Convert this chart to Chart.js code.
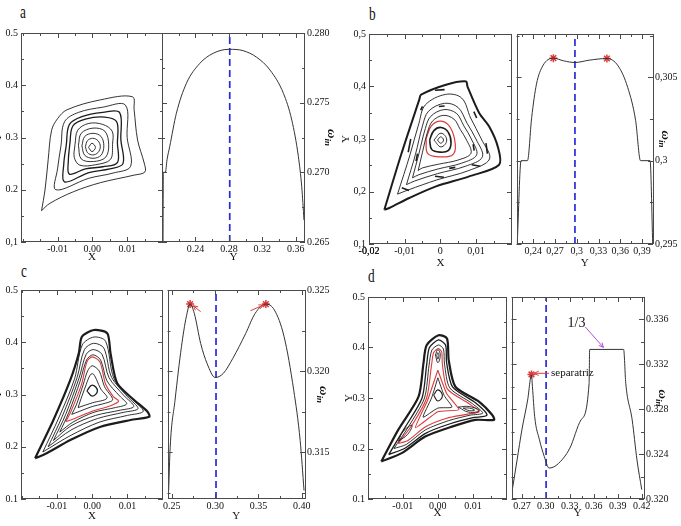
<!DOCTYPE html>
<html>
<head>
<meta charset="utf-8">
<script src="https://cdn.jsdelivr.net/npm/chart.js@4.4.0/dist/chart.umd.min.js"></script>
<style>
  body { margin: 0; width: 681px; height: 526px; background: #fff; overflow: hidden; position: relative; font-family: "Liberation Serif", serif; }
  canvas { position: absolute; }
  .tag { position: absolute; font-size: 19px; line-height: 19px; color: #111; transform: scaleX(0.7); transform-origin: left top; }
</style>
</head>
<body>
<div class="tag" style="left:20px;top:2px">a</div>
<div class="tag" style="left:369px;top:4px">b</div>
<div class="tag" style="left:21px;top:261px">c</div>
<div class="tag" style="left:368px;top:266px">d</div>
<script>
// ---------- panel a : Poincare section (X, Y) ----------
const aOuter = [-0.0146,0.160, -0.0136,0.1995, -0.0127,0.257, -0.0117,0.314, -0.0100,0.336, -0.0073,0.353, 0.0023,0.372, 0.0115,0.378, 0.0120,0.353, 0.0130,0.295, 0.0149,0.251, 0.0151,0.234, 0.0120,0.228, 0.0023,0.2135, -0.0054,0.1963, -0.0122,0.174];
const aC2 = [-0.0090,0.285, -0.0080,0.330, -0.0040,0.348, 0.0030,0.358, 0.0095,0.362, 0.0100,0.300, 0.0110,0.245, 0.0060,0.232, -0.0010,0.222, -0.0105,0.200, -0.0100,0.240];
const aC3 = [-0.0075,0.285, -0.0066,0.325, -0.0030,0.340, 0.0030,0.348, 0.0078,0.348, 0.0082,0.295, 0.0088,0.250, 0.0050,0.240, -0.0010,0.233, -0.0080,0.215, -0.0082,0.250];
const aC4 = [-0.0065,0.286, -0.0056,0.322, -0.0020,0.335, 0.0035,0.339, 0.0070,0.330, 0.0072,0.289, 0.0072,0.252, 0.0030,0.244, -0.0020,0.240, -0.0066,0.230, -0.0069,0.256];
const aC5 = [-0.0050,0.286, -0.0042,0.314, -0.0010,0.327, 0.0030,0.325, 0.0057,0.312, 0.0058,0.287, 0.0052,0.258, 0.0010,0.248, -0.0036,0.247, -0.0052,0.262];
const aC6 = [-0.0040,0.285, -0.0032,0.308, 0.0002,0.318, 0.0036,0.312, 0.0047,0.286, 0.0038,0.262, 0.0003,0.254, -0.0032,0.259];
const aC7 = [-0.0030,0.284, -0.0022,0.302, 0.0002,0.308, 0.0025,0.302, 0.0033,0.284, 0.0025,0.266, 0.0002,0.2602, -0.0022,0.266];
const aC8 = [-0.0020,0.2825, -0.0014,0.294, 0.0001,0.2985, 0.0016,0.294, 0.0023,0.2825, 0.0016,0.271, 0.0001,0.2666, -0.0014,0.271];
const aC9 = [-0.0011,0.281, -0.0001,0.289, 0.0009,0.281, -0.0001,0.273];
// panel a : rotation number profile
const aProfY = [0.2012, 0.2016, 0.2040, 0.2060, 0.2092, 0.2172, 0.2292, 0.2452, 0.2611, 0.2800, 0.2971, 0.3132, 0.3292, 0.3452, 0.3552, 0.3631, 0.3671, 0.3698];
const aProfW = [0.2648, 0.2700, 0.2700, 0.2709, 0.27184, 0.27424, 0.27639, 0.27782, 0.27854, 0.27883, 0.27873, 0.27826, 0.27734, 0.27567, 0.27375, 0.27112, 0.26896, 0.26657];
const aDashY = 0.281;

// ---------- panel b ----------
const bOuter = [-0.0157,0.1653, -0.0110,0.270, -0.0059,0.3749, -0.0054,0.3844, 0.0016,0.4034, 0.0072,0.4097, 0.0076,0.4002, 0.0109,0.3495, 0.0137,0.324, 0.0161,0.2859, 0.0165,0.251, 0.0081,0.2288, -0.0012,0.2097, -0.0087,0.1876, -0.0143,0.1686];
const bC2 = [-0.0120,0.195, -0.0085,0.270, -0.0060,0.330, -0.0042,0.365, 0.0015,0.385, 0.0060,0.378, 0.0085,0.340, 0.0115,0.300, 0.0138,0.262, 0.0080,0.240, -0.0010,0.222, -0.0090,0.203];
const bC3 = [-0.0095,0.213, -0.0070,0.270, -0.0050,0.325, -0.0033,0.353, 0.0012,0.368, 0.0050,0.360, 0.0075,0.330, 0.0100,0.300, 0.0118,0.266, 0.0070,0.248, -0.0008,0.234, -0.0072,0.220];
const bC4 = [-0.0078,0.226, -0.0060,0.272, -0.0042,0.320, -0.0027,0.343, 0.0010,0.356, 0.0045,0.349, 0.0066,0.325, 0.0087,0.300, 0.0102,0.270, 0.0060,0.254, -0.0006,0.243, -0.0060,0.232];
const bC5 = [-0.0062,0.240, -0.0050,0.275, -0.0036,0.313, -0.0022,0.334, 0.0008,0.345, 0.0038,0.338, 0.0056,0.318, 0.0072,0.300, 0.0086,0.273, 0.0050,0.260, -0.0005,0.252, -0.0050,0.245];
const bRed = [-0.0040,0.300, -0.0025,0.325, 0.0002,0.334, 0.0028,0.322, 0.0042,0.290, 0.0035,0.270, 0.0000,0.266, -0.0035,0.272];
const bC6 = [-0.0030,0.298, -0.0018,0.316, 0.0002,0.322, 0.0022,0.313, 0.0030,0.293, 0.0022,0.278, 0.0000,0.275, -0.0024,0.280];
const bC7 = [-0.0018,0.298, 0.0002,0.311, 0.0018,0.298, 0.0002,0.285];
const bC8 = [-0.0008,0.298, 0.0001,0.304, 0.0009,0.298, 0.0001,0.292];
const bIslands = [
  [-0.0015,0.393, 0.0012,0.394], [0.0094,0.352, 0.0102,0.340], [0.0128,0.292, 0.0132,0.272],
  [0.0088,0.251, 0.0112,0.248], [-0.0015,0.229, 0.0010,0.227], [-0.0108,0.207, -0.0088,0.202],
  [-0.0083,0.300, -0.0090,0.275], [-0.0055,0.355, -0.0050,0.362],
  [-0.0004,0.362, 0.0012,0.363], [0.0092,0.290, 0.0095,0.278], [0.0025,0.244, 0.0042,0.246], [-0.0068,0.258, -0.0064,0.272]
];
const bProfY = [0.2180, 0.2233, 0.2321, 0.2379, 0.2445, 0.2532, 0.2678, 0.2819, 0.2974, 0.3172, 0.3415, 0.3569, 0.3702, 0.3811, 0.3878, 0.4010, 0.4046];
const bProfW = [0.29501, 0.3000, 0.3000, 0.30259, 0.30459, 0.30569, 0.30615, 0.30599, 0.30589, 0.30603, 0.30613, 0.30569, 0.30439, 0.3024, 0.3000, 0.3000, 0.29501];
const bStarY = [0.2678, 0.3415];
const bStarW = [0.30615, 0.30613];
const bDashY = 0.2975;

// ---------- panel c ----------
const cOuter = [-0.0162,0.1779, -0.0110,0.2512, -0.0062,0.3278, -0.0038,0.3789, -0.0029,0.4106, 0.0005,0.4234, 0.0043,0.4171, 0.0052,0.3789, 0.0071,0.3214, 0.0119,0.2895, 0.0157,0.2671, 0.0162,0.2575, 0.0109,0.2512, 0.0024,0.2384, -0.0062,0.2129, -0.0129,0.1875];
const cC2 = [-0.0140,0.190, -0.0095,0.255, -0.0050,0.330, -0.0028,0.395, 0.0005,0.410, 0.0038,0.402, 0.0062,0.330, 0.0110,0.293, 0.0145,0.268, 0.0100,0.260, 0.0020,0.247, -0.0060,0.222];
const cC3 = [-0.0125,0.200, -0.0085,0.258, -0.0043,0.332, -0.0022,0.386, 0.0004,0.398, 0.0033,0.389, 0.0055,0.333, 0.0100,0.296, 0.0130,0.273, 0.0090,0.266, 0.0015,0.254, -0.0060,0.232];
const cC4 = [-0.0110,0.212, -0.0075,0.262, -0.0037,0.332, -0.0017,0.377, 0.0003,0.386, 0.0028,0.377, 0.0048,0.332, 0.0090,0.298, 0.0118,0.277, 0.0080,0.270, 0.0010,0.260, -0.0060,0.240];
const cC5 = [-0.0092,0.228, -0.0066,0.266, -0.0034,0.326, -0.0016,0.366, 0.0002,0.376, 0.0024,0.366, 0.0042,0.326, 0.0078,0.297, 0.0098,0.282, 0.0066,0.275, 0.0005,0.266, -0.0055,0.247];
const cRed = [-0.0075,0.248, -0.0060,0.268, -0.0030,0.320, -0.0015,0.362, 0.0000,0.372, 0.0022,0.362, 0.0038,0.320, 0.0060,0.296, 0.0075,0.287, 0.0050,0.278, 0.0000,0.268, -0.0050,0.254];
const cC6 = [-0.0058,0.262, -0.0045,0.280, -0.0025,0.320, -0.0013,0.345, 0.0000,0.355, 0.0020,0.345, 0.0035,0.315, 0.0058,0.290, 0.0030,0.282, 0.0000,0.277, -0.0035,0.268];
const cC7 = [-0.0040,0.275, -0.0022,0.310, 0.0000,0.340, 0.0025,0.310, 0.0042,0.293, 0.0000,0.284];
const cC8 = [-0.0015,0.307, 0.0000,0.318, 0.0015,0.307, 0.0000,0.297];
const cProfY = [0.2463, 0.2481, 0.2537, 0.2611, 0.2667, 0.2711, 0.2759, 0.2833, 0.2907, 0.3000, 0.3092, 0.3203, 0.3351, 0.3462, 0.3585, 0.3684, 0.3796, 0.3907, 0.3981, 0.4026];
const cProfW = [0.31262, 0.3153, 0.3182, 0.3215, 0.32335, 0.32413, 0.32356, 0.3217, 0.32046, 0.3196, 0.31984, 0.32077, 0.3223, 0.32356, 0.32413, 0.32376, 0.32211, 0.31881, 0.31572, 0.31262];
const cStarY = [0.2711, 0.3585];
const cStarW = [0.32413, 0.32413];
const cDashY = 0.301;
const cArrows = [[0.2833, 0.32366, 0.2748, 0.32403], [0.3407, 0.32372, 0.3556, 0.32407]];

// ---------- panel d ----------
const dOuter = [-0.0161,0.1742, -0.0113,0.2368, -0.0055,0.3026, -0.0041,0.3685, -0.0032,0.4046, 0.0002,0.4244, 0.0026,0.4179, 0.0031,0.375, 0.0050,0.3223, 0.0117,0.2927, 0.0155,0.2664, 0.0160,0.2566, 0.0107,0.2566, 0.0040,0.2433, -0.0036,0.2236, -0.0103,0.1908];
const dC2 = [-0.0140,0.188, -0.0095,0.240, -0.0045,0.300, -0.0032,0.365, -0.0024,0.400, 0.0002,0.415, 0.0022,0.405, 0.0025,0.370, 0.0042,0.322, 0.0108,0.290, 0.0140,0.266, 0.0100,0.261, 0.0035,0.249, -0.0035,0.230, -0.0095,0.200];
const dC3 = [-0.0125,0.200, -0.0082,0.245, -0.0038,0.300, -0.0025,0.365, -0.0017,0.395, 0.0002,0.405, 0.0016,0.397, 0.0019,0.367, 0.0034,0.320, 0.0098,0.289, 0.0128,0.270, 0.0092,0.266, 0.0030,0.255, -0.0035,0.237, -0.0090,0.208];
const dRedOuter = [-0.0113,0.210, -0.0072,0.248, -0.0032,0.300, -0.0018,0.365, -0.0012,0.390, 0.0001,0.398, 0.0011,0.391, 0.0013,0.366, 0.0027,0.318, 0.0088,0.289, 0.0118,0.273, 0.0085,0.268, 0.0025,0.260, -0.0035,0.243, -0.0085,0.216];
const dRedInner = [0.0000,0.355, 0.0025,0.309, 0.0060,0.277, 0.0000,0.273, -0.0064,0.241, -0.0029,0.296];
const dC4 = [0.0000,0.340, 0.0018,0.305, 0.0040,0.282, 0.0000,0.280, -0.0042,0.262, -0.0018,0.300];
const dCenter = [-0.0012,0.306, 0.0000,0.316, 0.0013,0.305, 0.0000,0.294];
const dIslTop = [-0.0007,0.385, 0.0000,0.396, 0.0007,0.385, 0.0000,0.370];
const dIslTop2 = [-0.0003,0.384, 0.0000,0.390, 0.0003,0.384, 0.0000,0.377];
const dIslRight = [0.0058,0.282, 0.0090,0.283, 0.0118,0.275, 0.0088,0.272];
const dIslRight2 = [0.0072,0.280, 0.0090,0.280, 0.0105,0.276, 0.0090,0.275];
const dIslLeft = [-0.0112,0.215, -0.0100,0.233, -0.0074,0.246, -0.0086,0.228];
const dProfY = [0.258, 0.264, 0.270, 0.2772, 0.282, 0.2832, 0.286, 0.292, 0.298, 0.304, 0.3139, 0.330, 0.344, 0.3541, 0.3548, 0.3973, 0.4000, 0.408, 0.414, 0.420];
const dProfW = [0.32083, 0.32349, 0.32616, 0.32882, 0.33105, 0.33001, 0.32734, 0.32527, 0.32379, 0.32276, 0.32305, 0.32453, 0.32705, 0.33031, 0.33333, 0.33333, 0.33031, 0.32705, 0.32349, 0.32083];
const dStarY = [0.282];
const dStarW = [0.3311];
const dDashY = 0.3003;
const dArrowRed = [0.304, 0.3312, 0.2855, 0.3312];
const dArrowViolet = [0.3492, 0.33534, 0.372, 0.33351];

// ---------- ticks ----------
const secX = { major: [-0.01, 0, 0.01], minor: [-0.02, -0.015, -0.005, 0.005, 0.015, 0.02] };
const secY = { major: [0.1, 0.2, 0.3, 0.4, 0.5], minor: [0.15, 0.25, 0.35, 0.45] };
const aSecXLabels = ['-0.01', '0.00', '0.01'];
const aSecYLabels = ['0,1', '0.2', '0.3', '0.4', '0.5'];
const bSecXMajor = [-0.02, -0.01, 0, 0.01];
const bSecXLabels = ['-0,02', '-0,01', '0', '0,01'];
const bSecYLabels = ['0,1', '0,2', '0,3', '0,4', '0,5'];
const cdSecYLabels = ['0.1', '0.2', '0.3', '0.4', '0.5'];
const aProfXMajor = [0.24, 0.28, 0.32, 0.36], aProfXMinor = [0.20, 0.22, 0.26, 0.30, 0.34];
const aProfWMajor = [0.265, 0.270, 0.275, 0.280], aProfWMinor = [0.2675, 0.2725, 0.2775];
const bProfXMajor = [0.24, 0.27, 0.30, 0.33, 0.36, 0.39], bProfXMinor = [0.225, 0.255, 0.285, 0.315, 0.345, 0.375];
const bProfXLabels = ['0,24', '0,27', '0,3', '0,33', '0,36', '0,39'];
const bProfWMajor = [0.295, 0.300, 0.305], bProfWMinor = [0.2975, 0.3025, 0.3075];
const bProfWLabels = ['0,295', '0,3', '0,305'];
const cProfXMajor = [0.25, 0.30, 0.35, 0.40], cProfXMinor = [0.275, 0.325, 0.375];
const cProfWMajor = [0.315, 0.320, 0.325], cProfWMinor = [0.3125, 0.3175, 0.3225];
const dProfXMajor = [0.27, 0.30, 0.33, 0.36, 0.39, 0.42], dProfXMinor = [0.285, 0.315, 0.345, 0.375, 0.405];
const dProfWMajor = [0.320, 0.324, 0.328, 0.332, 0.336], dProfWMinor = [0.322, 0.326, 0.330, 0.334, 0.338];

// ---------- helpers ----------
const FONT = '"Liberation Serif", "Times New Roman", serif';
Chart.defaults.font.family = FONT;
Chart.defaults.color = '#111';
const INK = '#1c1c1c', RED = '#dc3b3b', BLUE = '#2a2ad8';

function loop(arr) {
  const p = [];
  for (let i = 0; i < arr.length; i += 2) p.push({ x: arr[i], y: arr[i + 1] });
  p.push(p[0]);
  return p;
}
function pairs(xs, ys) { return xs.map((x, i) => ({ x, y: ys[i] })); }
function ln(data, color, width, tension, extra) {
  return Object.assign({ data, showLine: true, borderColor: color, borderWidth: width, pointRadius: 0, tension, fill: false }, extra || {});
}
function stars(xs, ys) {
  return { data: pairs(xs, ys), showLine: false, pointStyle: 'star', pointRadius: 4, borderColor: RED, borderWidth: 1.5, backgroundColor: RED };
}
function dash(v, lo, hi) {
  return ln([{ x: v, y: lo }, { x: v, y: hi }], BLUE, 1.7, 0, { borderDash: [7, 4] });
}
function fmt(major, labels) {
  return v => { const i = major.findIndex(m => Math.abs(m - v) < 1e-9); return i < 0 ? '' : (labels ? labels[i] : String(v)); };
}
function axis(o) {
  const vals = o.major.concat(o.minor).filter(v => v >= o.min - 1e-9 && v <= o.max + 1e-9).sort((p, q) => p - q);
  return {
    type: 'linear', position: o.pos, min: o.min, max: o.max,
    grid: { display: false, drawTicks: false }, border: { display: false },
    afterBuildTicks: s => { s.ticks = vals.map(v => ({ value: v })); },
    afterFit: s => {
      if (o.w !== undefined) s.width = o.w;
      if (o.h !== undefined) s.height = o.h;
      s.paddingLeft = s.paddingRight = s.paddingTop = s.paddingBottom = 0;
    },
    ticks: { autoSkip: false, maxRotation: 0, minRotation: 0, padding: o.pad, font: { size: 10, lineHeight: 1.2 }, color: '#111', callback: fmt(o.major, o.labels) },
    title: o.title ? { display: true, text: o.title, font: { size: 11, lineHeight: 1.2 }, color: '#111', padding: o.tpad || 0 } : { display: false }
  };
}
function deco(spec) {
  return {
    id: 'deco',
    afterDatasetsDraw(chart) {
      const { ctx, chartArea: a, scales: { x, y } } = chart;
      const isMajor = (list, v) => list.some(m => Math.abs(m - v) < 1e-9);
      ctx.save();
      ctx.strokeStyle = '#4a4a4a';
      ctx.lineWidth = 1;
      ctx.beginPath();
      x.ticks.forEach(t => {
        const p = Math.round(x.getPixelForValue(t.value)) + 0.5, n = isMajor(spec.xMajor, t.value) ? 5 : 3;
        ctx.moveTo(p, a.bottom); ctx.lineTo(p, a.bottom - n);
        ctx.moveTo(p, a.top); ctx.lineTo(p, a.top + n);
      });
      y.ticks.forEach(t => {
        const p = Math.round(y.getPixelForValue(t.value)) + 0.5, n = isMajor(spec.yMajor, t.value) ? 5 : 3;
        ctx.moveTo(a.left, p); ctx.lineTo(a.left + n, p);
        ctx.moveTo(a.right, p); ctx.lineTo(a.right - n, p);
      });
      ctx.stroke();
      ctx.strokeRect(Math.round(a.left) + 0.5, Math.round(a.top) + 0.5, Math.round(a.right - a.left) - 1, Math.round(a.bottom - a.top) - 1);
      (spec.arrows || []).forEach(ar => {
        const [x0, y0, x1, y1] = ar.pts;
        const p0 = [x.getPixelForValue(x0), y.getPixelForValue(y0)], p1 = [x.getPixelForValue(x1), y.getPixelForValue(y1)];
        const ang = Math.atan2(p1[1] - p0[1], p1[0] - p0[0]);
        ctx.strokeStyle = ar.color; ctx.lineWidth = 1;
        ctx.beginPath();
        ctx.moveTo(p0[0], p0[1]); ctx.lineTo(p1[0], p1[1]);
        ctx.moveTo(p1[0] - 5 * Math.cos(ang - 0.45), p1[1] - 5 * Math.sin(ang - 0.45));
        ctx.lineTo(p1[0], p1[1]);
        ctx.lineTo(p1[0] - 5 * Math.cos(ang + 0.45), p1[1] - 5 * Math.sin(ang + 0.45));
        ctx.stroke();
      });
      (spec.texts || []).forEach(tx => {
        ctx.fillStyle = '#111'; ctx.font = tx.size + 'px ' + FONT;
        ctx.textAlign = tx.align; ctx.textBaseline = 'middle';
        ctx.fillText(tx.text, x.getPixelForValue(tx.at[0]), y.getPixelForValue(tx.at[1]));
      });
      if (spec.wTitle !== undefined) {
        ctx.translate(a.right + spec.wTitle, (a.top + a.bottom) / 2);
        ctx.rotate(Math.PI / 2);
        ctx.fillStyle = '#111'; ctx.textBaseline = 'middle'; ctx.textAlign = 'left';
        const f1 = 'italic bold 13px ' + FONT, f2 = 'italic bold 9px ' + FONT;
        ctx.font = f1; const w1 = ctx.measureText('ω').width;
        ctx.font = f2; const w2 = ctx.measureText('in').width;
        const x0 = -(w1 + w2) / 2;
        ctx.font = f1; ctx.fillText('ω', x0, 0);
        ctx.font = f2; ctx.fillText('in', x0 + w1, 4);
      }
      ctx.restore();
    }
  };
}
function makeCanvas(left, top, w, h) {
  const c = document.createElement('canvas');
  c.width = w; c.height = h;
  c.style.left = left + 'px'; c.style.top = top + 'px';
  c.style.width = w + 'px'; c.style.height = h + 'px';
  document.body.appendChild(c);
  return c;
}
function chart(canvas, datasets, xs, ys, spec) {
  return new Chart(canvas, {
    type: 'scatter',
    data: { datasets },
    options: {
      responsive: false, animation: false, devicePixelRatio: 1, events: [],
      layout: { padding: { top: 10, left: 0, right: 0, bottom: 0 } },
      plugins: { legend: { display: false }, tooltip: { enabled: false } },
      scales: { x: xs, y: ys }
    },
    plugins: [deco(spec)]
  });
}
function panel(g, sec, prof) {
  const top = g.T - 10, h = g.B - g.T + 10 + g.xh;
  const lc = makeCanvas(g.L - 29, top, g.M - g.L + 30, h);
  chart(lc, sec.datasets,
    axis({ pos: 'bottom', min: sec.xr[0], max: sec.xr[1], major: sec.xMajor, minor: secX.minor, labels: sec.xLabels, h: g.xh, pad: 1.5, title: 'X' }),
    axis({ pos: 'left', min: 0.1, max: 0.5, major: secY.major, minor: secY.minor, labels: sec.yLabels, w: 29, pad: 3, title: 'Y', tpad: g.ytpad }),
    { xMajor: sec.xMajor, yMajor: secY.major });
  const rc = makeCanvas(g.M, top, g.R - g.M + 40, h);
  chart(rc, prof.datasets,
    axis({ pos: 'bottom', min: prof.xr[0], max: prof.xr[1], major: prof.xMajor, minor: prof.xMinor, labels: prof.xLabels, h: g.xh, pad: 1.5, title: 'Y' }),
    axis({ pos: 'right', min: prof.yr[0], max: prof.yr[1], major: prof.yMajor, minor: prof.yMinor, labels: prof.yLabels, w: 40, pad: 2 }),
    { xMajor: prof.xMajor, yMajor: prof.yMajor, wTitle: g.wt, arrows: prof.arrows, texts: prof.texts });
}

// ---------- panel a ----------
panel({ L: 21, M: 162, R: 305, T: 33, B: 242, xh: 22, wt: 26, ytpad: 0 }, {
  xr: [-0.0205, 0.0203], xMajor: secX.major, xLabels: aSecXLabels, yLabels: aSecYLabels,
  datasets: [aOuter, aC2, aC3, aC4, aC5, aC6, aC7, aC8, aC9].map((c, i) => ln(loop(c), INK, i === 2 || i === 3 ? 1.3 : 0.9, 0.35))
}, {
  xr: [0.2, 0.371], yr: [0.265, 0.280], xMajor: aProfXMajor, xMinor: aProfXMinor, yMajor: aProfWMajor, yMinor: aProfWMinor,
  xLabels: ['0.24', '0.28', '0.32', '0.36'], yLabels: ['0.265', '0.270', '0.275', '0.280'],
  datasets: [ln(pairs(aProfY, aProfW), '#333', 1, 0, { cubicInterpolationMode: 'monotone' }), dash(aDashY, 0.265, 0.280)]
});

// ---------- panel b ----------
panel({ L: 369, M: 511, R: 653, T: 34, B: 244, xh: 26, wt: 12, ytpad: 0 }, {
  xr: [-0.02, 0.0201], xMajor: bSecXMajor, xLabels: bSecXLabels, yLabels: bSecYLabels,
  datasets: [ln(loop(bOuter), INK, 2, 0.3)]
    .concat([bC2, bC3, bC4, bC5].map(c => ln(loop(c), INK, 0.9, 0.35)))
    .concat(bIslands.map(s => ln(loop(s), INK, 1.6, 0)))
    .concat([ln(loop(bRed), RED, 1.2, 0.4), ln(loop(bC6), INK, 1.6, 0.4), ln(loop(bC7), INK, 0.9, 0.45), ln(loop(bC8), INK, 0.9, 0.45)])
}, {
  xr: [0.217, 0.405], yr: [0.295, 0.3076], xMajor: bProfXMajor, xMinor: bProfXMinor, yMajor: bProfWMajor, yMinor: bProfWMinor,
  xLabels: bProfXLabels, yLabels: bProfWLabels,
  datasets: [ln(pairs(bProfY, bProfW), '#333', 1, 0, { cubicInterpolationMode: 'monotone' }), dash(bDashY, 0.295, 0.3076), stars(bStarY, bStarW)]
});

// ---------- panel c ----------
panel({ L: 21, M: 162, R: 305, T: 290, B: 499, xh: 24, wt: 18, ytpad: 0 }, {
  xr: [-0.0202, 0.0201], xMajor: secX.major, xLabels: aSecXLabels, yLabels: cdSecYLabels,
  datasets: [ln(loop(cOuter), INK, 2.2, 0.25)]
    .concat([cC2, cC3, cC4, cC5].map(c => ln(loop(c), INK, 0.9, 0.3)))
    .concat([ln(loop(cRed), RED, 1.1, 0.3), ln(loop(cC6), INK, 0.9, 0.3), ln(loop(cC7), INK, 0.9, 0.35), ln(loop(cC8), INK, 1.3, 0.45)])
}, {
  xr: [0.245, 0.4037], yr: [0.3121, 0.325], xMajor: cProfXMajor, xMinor: cProfXMinor, yMajor: cProfWMajor, yMinor: cProfWMinor,
  xLabels: ['0.25', '0.30', '0.35', '0.40'], yLabels: ['0.315', '0.320', '0.325'],
  arrows: cArrows.map(p => ({ pts: p, color: RED })),
  datasets: [ln(pairs(cProfY, cProfW), '#333', 1, 0, { cubicInterpolationMode: 'monotone' }), dash(cDashY, 0.3121, 0.325), stars(cStarY, cStarW)]
});

// ---------- panel d ----------
panel({ L: 368, M: 506, R: 644, T: 297, B: 499, xh: 21, wt: 18, ytpad: { top: 4 } }, {
  xr: [-0.0199, 0.0197], xMajor: secX.major, xLabels: aSecXLabels, yLabels: cdSecYLabels,
  datasets: [ln(loop(dOuter), INK, 2.2, 0.25), ln(loop(dC2), INK, 1.3, 0.25), ln(loop(dC3), INK, 0.9, 0.25),
    ln(loop(dC4), INK, 0.9, 0.2), ln(loop(dCenter), INK, 1.1, 0.45),
    ln(loop(dIslTop), INK, 0.9, 0.45), ln(loop(dIslTop2), INK, 0.9, 0.45), ln(loop(dIslRight), INK, 0.9, 0.45),
    ln(loop(dIslRight2), INK, 0.9, 0.45), ln(loop(dIslLeft), INK, 0.9, 0.45),
    ln(loop(dRedOuter), RED, 1.1, 0.25), ln(loop(dRedInner), RED, 1.1, 0.15)]
}, {
  xr: [0.257, 0.4228], yr: [0.320, 0.338], xMajor: dProfXMajor, xMinor: dProfXMinor, yMajor: dProfWMajor, yMinor: dProfWMinor,
  xLabels: ['0.27', '0.30', '0.33', '0.36', '0.39', '0.42'], yLabels: ['0.320', '0.324', '0.328', '0.332', '0.336'],
  arrows: [{ pts: dArrowRed, color: RED }, { pts: dArrowViolet, color: '#b44ce0' }],
  texts: [{ text: 'separatriz', at: [0.3064, 0.3312], size: 11, align: 'left' }, { text: '1/3', at: [0.3383, 0.33565], size: 14, align: 'center' }],
  datasets: [ln(pairs(dProfY, dProfW), '#333', 1, 0, { cubicInterpolationMode: 'monotone' }), dash(dDashY, 0.320, 0.338), stars(dStarY, dStarW)]
});
</script>
</body>
</html>
